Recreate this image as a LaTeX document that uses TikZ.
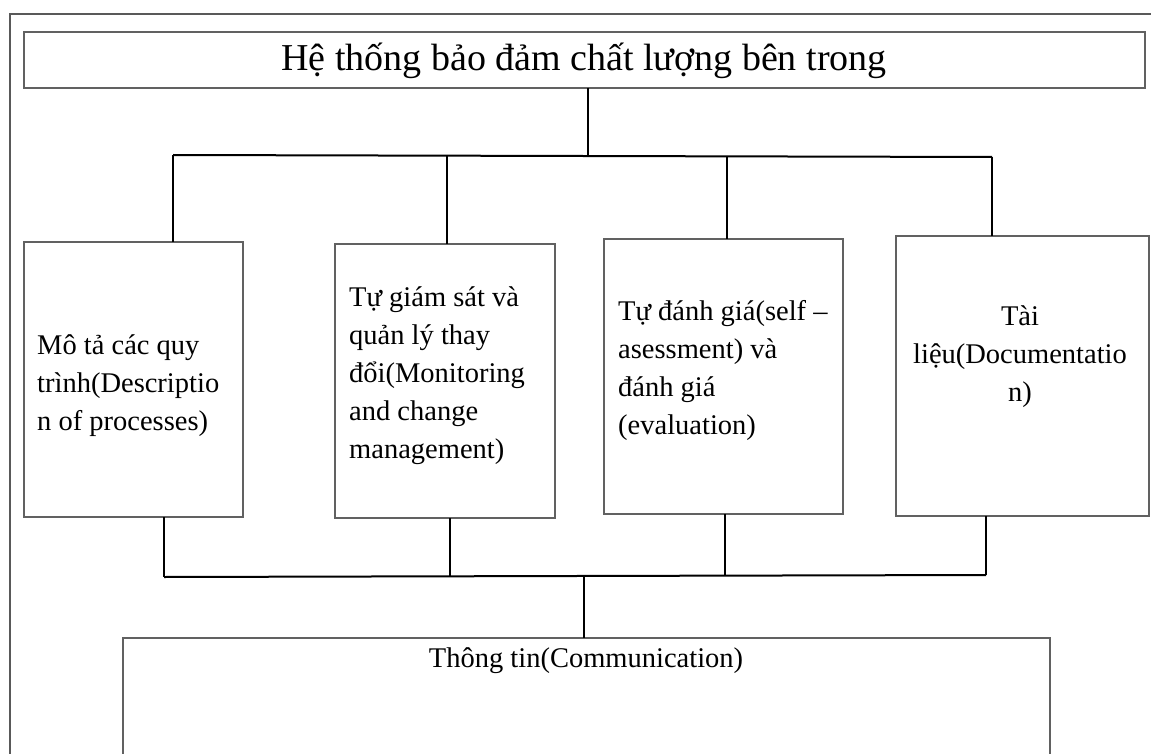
\documentclass[tikz,border=0pt]{standalone}
\usepackage{fontspec}
\setmainfont{Liberation Serif}
\usetikzlibrary{calc}
\begin{document}
\begin{tikzpicture}[x=1pt,y=-1pt,
  frame/.style={draw=black!65,line width=1.1pt},
  box/.style={draw=black!62,line width=1.2pt,inner sep=0pt,outer sep=0pt,fill=none},
  conn/.style={draw=black,line width=2pt},
  body/.style={inner sep=0pt,font=\fontsize{28.5}{38}\selectfont},
  title/.style={inner sep=0pt,font=\fontsize{38}{44}\selectfont}]
\useasboundingbox (0,0) rectangle (1151,754);
\clip (0,0) rectangle (1151,754);
\fill[white] (0,0) rectangle (1151,754);

% page frame (only its top and left sides fall inside the picture)
\draw[frame] (1170,14) -- (10,14) -- (10,770);

% heading
\node[box,line width=1.3pt,minimum width=1121pt,minimum height=56pt] (head) at (584.5,60) {};
\node[title,anchor=base] (headtxt) at (584,71) {Hệ thống bảo đảm chất lượng bên trong};

% four component boxes
\node[box,minimum width=219pt,minimum height=275pt] (b1) at (133.5,379.5) {};
\node[box,minimum width=220pt,minimum height=274pt] (b2) at (445,381) {};
\node[box,minimum width=239pt,minimum height=275pt] (b3) at (723.5,376.5) {};
\node[box,minimum width=253pt,minimum height=280pt] (b4) at (1022.5,376) {};

\node[body,anchor=west,align=left] (t1) at (37,386)
  {Mô tả các quy\\trình(Descriptio\\n of processes)};
\node[body,anchor=west,align=left] (t2) at (349,376)
  {Tự giám sát và\\quản lý thay\\đổi(Monitoring\\and change\\management)};
\node[body,anchor=west,align=left] (t3) at (618,370)
  {Tự đánh giá(self –\\asessment) và\\đánh giá\\(evaluation)};
\node[body,align=center] (t4) at (1020,357)
  {Tài\\liệu(Documentatio\\n)};

% communication box
\node[box,minimum width=927pt,minimum height=132pt] (comm) at (586.5,704) {};
\node[body,anchor=base] (commtxt) at (586,667) {Thông tin(Communication)};

% upper distribution bus
\coordinate (tj) at (588,156);
\coordinate (u1) at (173,155);
\coordinate (u2) at (447,156);
\coordinate (u3) at (727,156.5);
\coordinate (u4) at (992,157);
\draw[conn] (head.south -| tj) -- (tj);
\draw[conn] (u1) -- (u4);
\draw[conn] (u1) -- (u1 |- b1.north);
\draw[conn] (u2) -- (u2 |- b2.north);
\draw[conn] (u3) -- (u3 |- b3.north);
\draw[conn] (u4) -- (u4 |- b4.north);

% lower collecting bus
\coordinate (l1) at (164,577);
\coordinate (l2) at (450,577);
\coordinate (l3) at (725,575.5);
\coordinate (l4) at (986,575);
\coordinate (lj) at (584,576);
\draw[conn] (l1) -- (l4);
\draw[conn] (l1 |- b1.south) -- (l1);
\draw[conn] (l2 |- b2.south) -- (l2);
\draw[conn] (l3 |- b3.south) -- (l3);
\draw[conn] (l4 |- b4.south) -- (l4);
\draw[conn] (lj) -- (lj |- comm.north);
\end{tikzpicture}
\end{document}
